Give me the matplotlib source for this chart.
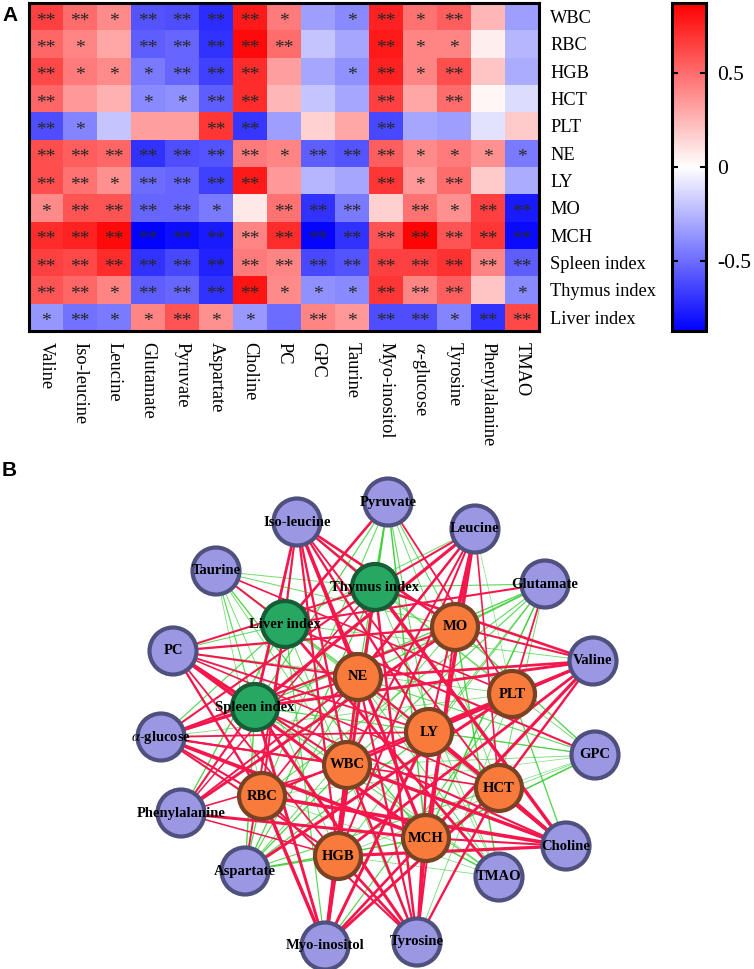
import numpy as np
import matplotlib
matplotlib.use('Agg')
from matplotlib import pyplot as plt
from matplotlib.colors import LinearSegmentedColormap
from matplotlib.patches import Circle

plt.rcParams['font.family'] = 'Liberation Serif'
plt.rcParams['mathtext.fontset'] = 'stix'
plt.rcParams['axes.unicode_minus'] = False

metabolites = ['Valine', 'Iso-leucine', 'Leucine', 'Glutamate', 'Pyruvate', 'Aspartate', 'Choline', 'PC', 'GPC',
               'Taurine', 'Myo-inositol', r'$\alpha$-glucose', 'Tyrosine', 'Phenylalanine', 'TMAO']
indices = ['WBC', 'RBC', 'HGB', 'HCT', 'PLT', 'NE', 'LY', 'MO', 'MCH', 'Spleen index', 'Thymus index', 'Liver index']

#correlation values
corr = np.array([
    [.65, .50, .40, -.58, -.60, -.72, .78, .45, -.33, -.40, .75, .48, .55, .25, -.33],
    [.52, .42, .30, -.55, -.52, -.70, .83, .50, -.20, -.30, .78, .42, .42, .06, -.25],
    [.62, .45, .40, -.45, -.52, -.65, .72, .33, -.30, -.38, .75, .42, .60, .20, -.28],
    [.52, .35, .27, -.40, -.38, -.55, .72, .25, -.20, -.30, .65, .30, .50, .03, -.12],
    [-.60, -.42, -.20, .33, .33, .68, -.68, -.33, .15, .30, -.62, -.30, -.33, -.10, .18],
    [.60, .55, .52, -.70, -.60, -.58, .45, .42, -.55, -.58, .55, .40, .45, .38, -.45],
    [.60, .48, .38, -.50, -.52, -.65, .78, .35, -.25, -.30, .68, .35, .50, .18, -.28],
    [.40, .58, .58, -.52, -.52, -.45, .08, .48, -.70, -.45, .16, .48, .38, .65, -.78],
    [.72, .75, .83, -.86, -.82, -.78, .42, .72, -.85, -.70, .58, .85, .58, .68, -.83],
    [.65, .62, .72, -.70, -.62, -.75, .45, .42, -.62, -.58, .65, .65, .70, .42, -.55],
    [.58, .52, .42, -.55, -.52, -.70, .80, .40, -.38, -.40, .68, .42, .55, .20, -.40],
    [-.36, -.48, -.45, .42, .58, .38, -.35, -.50, .42, .35, -.60, -.60, -.42, -.70, .62],
])

#number of stars in each cell
stars = [
    [2, 2, 1, 2, 2, 2, 2, 1, 0, 1, 2, 1, 2, 0, 0],
    [2, 1, 0, 2, 2, 2, 2, 2, 0, 0, 2, 1, 1, 0, 0],
    [2, 1, 1, 1, 2, 2, 2, 0, 0, 1, 2, 1, 2, 0, 0],
    [2, 0, 0, 1, 1, 2, 2, 0, 0, 0, 2, 0, 2, 0, 0],
    [2, 1, 0, 0, 0, 2, 2, 0, 0, 0, 2, 0, 0, 0, 0],
    [2, 2, 2, 2, 2, 2, 2, 1, 2, 2, 2, 1, 1, 1, 1],
    [2, 2, 1, 2, 2, 2, 2, 0, 0, 0, 2, 1, 2, 0, 0],
    [1, 2, 2, 2, 2, 1, 0, 2, 2, 2, 0, 2, 1, 2, 2],
    [2, 2, 2, 2, 2, 2, 2, 2, 2, 2, 2, 2, 2, 2, 2],
    [2, 2, 2, 2, 2, 2, 2, 2, 2, 2, 2, 2, 2, 2, 2],
    [2, 2, 1, 2, 2, 2, 2, 1, 1, 1, 2, 2, 2, 0, 1],
    [1, 2, 1, 1, 2, 1, 1, 0, 2, 1, 2, 2, 1, 2, 2],
]

#network layout, in pixels of the picture
metabolite_pos = [(593, 661), (297, 522), (475, 529), (545, 584), (388, 502), (245, 871), (566, 846), (173, 651),
                  (595, 755), (216, 571), (325, 946), (161, 737), (417, 942), (181, 813), (499, 877)]
index_pos = [(347, 765), (262, 796), (338, 856), (499, 788), (512, 694), (358, 677), (429, 732), (455, 627),
             (426, 838), (255, 707), (375, 587), (285, 624)]
organ_names = ['Spleen index', 'Thymus index', 'Liver index']

W, H = 754, 969
fig = plt.figure(figsize=(W / 100, H / 100), dpi=100)

bwr = LinearSegmentedColormap.from_list('bwr2', ['#0000ff', '#ffffff', '#ff0000'])
vmax = 0.87

# A: heatmap
ax = fig.add_axes([29 / W, 1 - 331 / H, 510 / W, 328 / H])
mesh = ax.pcolormesh(corr, cmap=bwr, vmin=-vmax, vmax=vmax)
ax.invert_yaxis()
for i in range(len(indices)):
    for j in range(len(metabolites)):
        if stars[i][j]:
            ax.text(j + 0.5, i + 0.66, '*' * stars[i][j], ha='center', va='center', fontsize=14, color='#262626')
ax.set_xticks(np.arange(15) + 0.5, metabolites, rotation=-90, fontsize=13.2)
ax.set_yticks(np.arange(12) + 0.5, indices, fontsize=13.2)
ax.yaxis.tick_right()
ax.tick_params(length=0, pad=8)
for s in ax.spines.values():
    s.set_linewidth(2.2)

cax = fig.add_axes([672 / W, 1 - 331 / H, 34 / W, 328 / H])
cb = fig.colorbar(mesh, cax=cax, ticks=[-0.5, 0, 0.5])
cb.ax.set_yticklabels(['-0.5', '0', '0.5'], fontsize=15.5)
cb.ax.tick_params(direction='in', left=True, right=True, length=4, width=1.5, pad=8)
cb.outline.set_linewidth(2.2)

# B: network, drawn in picture pixels
net = fig.add_axes([0, 0, 1, 1], zorder=3)
net.set_xlim(0, W)
net.set_ylim(H, 0)
net.axis('off')
net.patch.set_alpha(0)

for i in range(len(indices)):
    for j in range(len(metabolites)):
        r = corr[i][j]
        if abs(r) < 0.2:
            continue
        x = [index_pos[i][0], metabolite_pos[j][0]]
        y = [index_pos[i][1], metabolite_pos[j][1]]
        if r > 0:
            net.plot(x, y, color='#f5174b', lw=1.1 + 2.8 * (r - 0.2) ** 1.3, zorder=2, solid_capstyle='butt')
        else:
            net.plot(x, y, color='#3ecf3a', lw=0.5 + 0.9 * (-r - 0.2), alpha=0.55 - r * 0.5, zorder=1,
                     solid_capstyle='butt')

for name, (x, y) in zip(metabolites, metabolite_pos):
    net.add_patch(Circle((x, y), 23.5, fc='#9a98e2', ec='#50507e', lw=3, zorder=3))
    net.text(x, y, name, ha='center', va='center', fontsize=10.5, fontweight='bold', zorder=5)
for name, (x, y) in zip(indices, index_pos):
    if name in organ_names:
        fc, ec = '#27a862', '#155c37'
    else:
        fc, ec = '#f97b3b', '#7a4225'
    net.add_patch(Circle((x, y), 23, fc=fc, ec=ec, lw=3, zorder=3))
    net.text(x, y, name, ha='center', va='center', fontsize=10.5, fontweight='bold', zorder=5)

fig.text(2 / W, 1 - 21 / H, 'A', fontsize=15, fontweight='bold', family='Liberation Sans')
fig.text(2 / W, 1 - 476 / H, 'B', fontsize=15, fontweight='bold', family='Liberation Sans')

fig.savefig('out.png', dpi=100)
